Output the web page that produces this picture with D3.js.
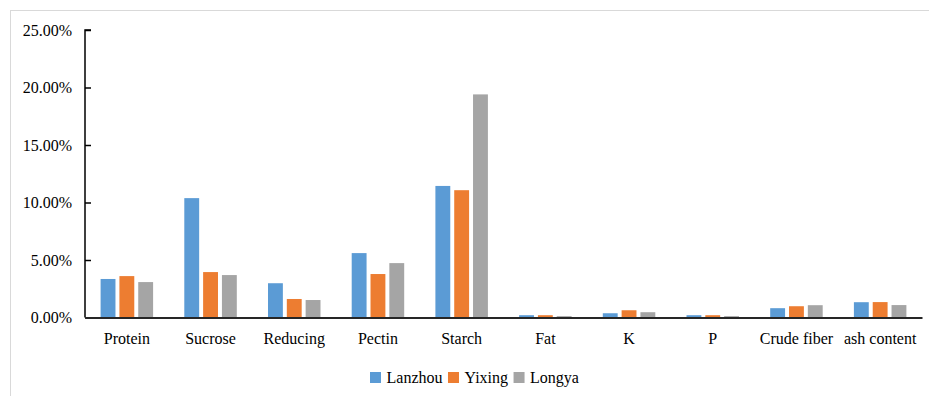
<!DOCTYPE html>
<html>
<head>
<meta charset="utf-8">
<script src="https://cdn.jsdelivr.net/npm/d3@7"></script>
<style>
  body { margin: 0; background: #fff; }
  svg, svg text { font-family: "Liberation Serif", "Times New Roman", Times, Tinos, "DejaVu Serif", serif; fill: #000; }
</style>
</head>
<body>
<div id="chart"></div>
<script>
var categories = ["Protein", "Sucrose", "Reducing", "Pectin", "Starch", "Fat", "K", "P", "Crude fiber", "ash content"]
var series = ["Lanzhou", "Yixing", "Longya"]
var lanzhou = [3.35, 10.38, 2.98, 5.6, 11.44, 0.2, 0.37, 0.2, 0.81, 1.33]
var yixing = [3.6, 3.95, 1.61, 3.78, 11.07, 0.2, 0.63, 0.2, 0.98, 1.34]
var longya = [3.08, 3.69, 1.52, 4.73, 19.4, 0.12, 0.46, 0.12, 1.07, 1.08]
var yTicks = [0, 5, 10, 15, 20, 25]
var colors = ["#5B9BD5", "#ED7D31", "#A5A5A5"]

var serifFont = '"Liberation Serif", "Times New Roman", Times, Tinos, "DejaVu Serif", serif'

var values = [lanzhou, yixing, longya]
var data = categories.map(function(c, i) {
    return {cat: c, vals: series.map(function(s, j) { return {name: s, v: values[j][i]} })}
})

var width = 929, height = 396
var margin = {top: 30, left: 85, right: 6, bottom: 78}

var svg = d3.select("#chart").append("svg")
    .attr("width", width)
    .attr("height", height)
    .attr("font-family", serifFont)

// outer frame, cut by the window on right and bottom
svg.append("rect")
    .attr("x", 10.5).attr("y", 10.5)
    .attr("width", 940).attr("height", 420)
    .attr("fill", "none")
    .attr("stroke", "#D9D9D9")

var x0 = d3.scaleBand()
    .domain(categories)
    .range([margin.left, width - margin.right - 1])

var groupW = 52.5
var x1 = d3.scaleBand()
    .domain(series)
    .range([(x0.bandwidth() - groupW) / 2, (x0.bandwidth() + groupW) / 2])
    .paddingInner(0.21)

var y = d3.scaleLinear()
    .domain([0, 25])
    .range([height - margin.bottom - 0.5, margin.top])

// bars
svg.append("g").selectAll("g")
    .data(data)
    .enter().append("g")
    .attr("transform", function(d) { return "translate(" + x0(d.cat) + ",0)" })
    .selectAll("rect")
    .data(function(d) { return d.vals })
    .enter().append("rect")
    .attr("x", function(d) { return x1(d.name) })
    .attr("width", x1.bandwidth())
    .attr("y", function(d) { return y(d.v) })
    .attr("height", function(d) { return y(0) - y(d.v) })
    .attr("fill", function(d, i) { return colors[i] })

// y axis, ticks pointing inward
var yAxis = svg.append("g")
    .attr("transform", "translate(" + margin.left + ",0)")
    .call(d3.axisRight(y).tickValues(yTicks).tickSize(6)
        .tickFormat(function(d) { return d.toFixed(2) + "%" }))
    .attr("font-family", serifFont)
    .attr("font-size", 16)
yAxis.select(".domain").attr("stroke", "#000").attr("stroke-width", 1.5)
    .attr("d", "M6," + y(25) + "H0V" + y(0))
yAxis.selectAll(".tick line").attr("stroke", "#000").attr("stroke-width", 1.5)
yAxis.selectAll(".tick text")
    .attr("x", -13)
    .attr("dy", "0.32em")
    .attr("text-anchor", "end")

// x axis
var xAxis = svg.append("g")
    .attr("transform", "translate(0," + y(0) + ")")
    .call(d3.axisBottom(x0).tickSize(0).tickPadding(15))
    .attr("font-family", serifFont)
    .attr("font-size", 16)
xAxis.select(".domain").attr("stroke", "#262626").attr("stroke-width", 2)

// legend
var legend = svg.append("g").attr("transform", "translate(370,372)")
var lx = 0
series.forEach(function(s, i) {
    legend.append("rect")
        .attr("x", lx).attr("y", 0)
        .attr("width", 11).attr("height", 11)
        .attr("fill", colors[i])
    var t = legend.append("text")
        .attr("x", lx + 16.5).attr("y", 11)
        .attr("font-size", 16)
        .text(s)
    lx += 16.5 + t.node().getComputedTextLength() + 5.5
})
</script>
</body>
</html>
